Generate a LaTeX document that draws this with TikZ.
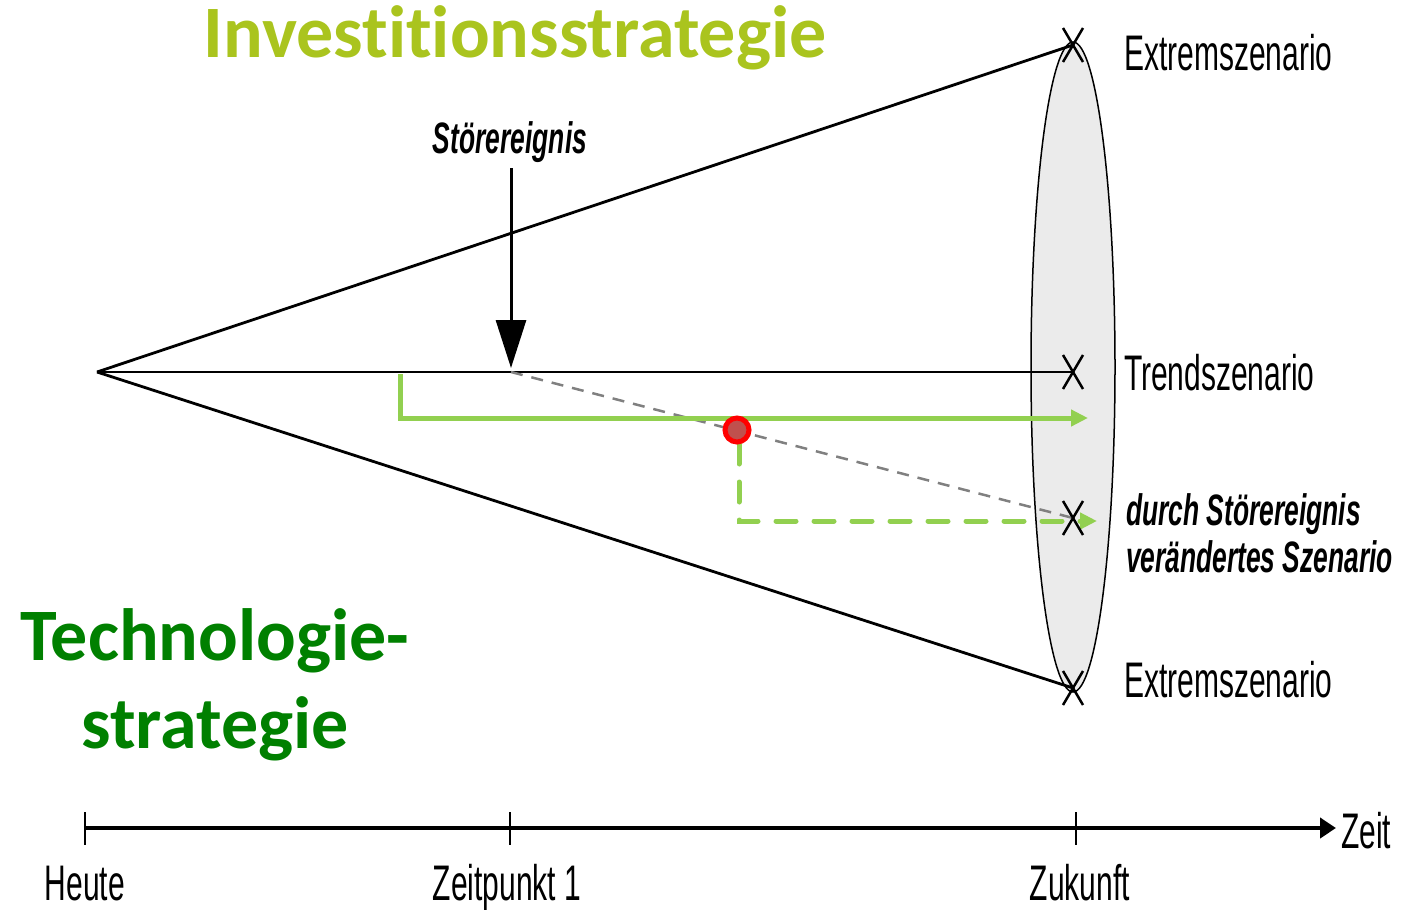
\documentclass[tikz,border=0pt]{standalone}
\usepackage{fontspec}
\setmainfont{Liberation Sans}
\newfontfamily\narrowfont[FakeStretch=0.6]{Liberation Sans}
\newfontfamily\titlefont[Ligatures={NoCommon}]{Carlito}
\usetikzlibrary{arrows.meta,calc,shapes.geometric}
\definecolor{investgreen}{RGB}{170,196,30}
\definecolor{techgreen}{RGB}{0,128,0}
\definecolor{pathgreen}{RGB}{146,208,80}
\definecolor{conefill}{RGB}{235,235,235}
\definecolor{eventfill}{RGB}{192,80,77}
\tikzset{
  txt/.style={inner sep=0pt, outer sep=0pt, anchor=base},
  label50/.style={txt, font=\narrowfont\fontsize{50}{60}\selectfont},
  eventlbl/.style={txt, font=\narrowfont\bfseries\itshape\fontsize{44}{52}\selectfont},
  bigtitle/.style={txt, font=\titlefont\bfseries\fontsize{74}{88}\selectfont},
  coneline/.style={line width=2.8pt, black},
  xmark/.style={line width=2.5pt, black},
  greenpath/.style={line width=5pt, pathgreen, -{Triangle[length=17pt,width=16pt]}},
  axis/.style={line width=4pt, black, -{Triangle[length=16pt,width=20pt]}},
  tick/.style={line width=1.5pt, black},
}
\newcommand{\xmarkat}[1]{%
  \draw[xmark] ($(#1)+(-10,-17)$) -- ($(#1)+(10,17)$);
  \draw[xmark] ($(#1)+(10,-17)$) -- ($(#1)+(-10,17)$);}
\begin{document}
\begin{tikzpicture}[x=1pt,y=-1pt]
\useasboundingbox (0,0) rectangle (1406,910);

% key points of the scenario funnel
\coordinate (apex) at (97,372);
\coordinate (top) at (1073,45);
\coordinate (bottom) at (1073,688);
\coordinate (trend) at (1073,372);
\coordinate (altered) at (1073,518);
\coordinate (event) at (511,372);

% cross-section of the funnel at the horizon
\node[draw=black, line width=1.5pt, fill=conefill, ellipse, minimum width=84pt, minimum height=650pt, inner sep=0pt] (horizon) at (1073,367) {};

% funnel edges and trend line
\draw[coneline] (apex) -- (top);
\draw[coneline] (apex) -- (bottom);
\draw[coneline] (apex) -- (trend);

% shifted development after the disturbance
\draw[line width=2.5pt, gray, dash pattern=on 12pt off 9pt] (event) -- (altered);

% strategy paths
\coordinate (g1) at (400,374);
\coordinate (g2) at (400,418);
\coordinate (g3) at (1088,418);
\draw[greenpath] (g1) -- (g2) -- (g3);

\coordinate (d1) at (739,444);
\coordinate (d2) at (739,521);
\coordinate (d3) at (1097,521);
\draw[greenpath, line cap=round, dash pattern=on 20pt off 18pt] (d1) -- (d2) -- (d3);

% decision point
\node[circle, draw=red, line width=5pt, fill=eventfill, minimum size=24pt, inner sep=0pt] (decision) at (737,430) {};

% scenario marks
\xmarkat{top}
\xmarkat{trend}
\xmarkat{altered}
\xmarkat{bottom}

% disturbance arrow
\node[eventlbl, anchor=base] (evtlbl) at (510,153) {Störereignis};
\coordinate (evtstart) at (511,168);
\coordinate (evtend) at (511,368);
\draw[line width=3pt, -{Triangle[length=48pt,width=30pt]}] (evtstart) -- (evtend);

% scenario labels
\node[label50, anchor=base west] (ext1) at (1124,70) {Extremszenario};
\node[label50, anchor=base west] (trd) at (1124,390) {Trendszenario};
\node[eventlbl, anchor=base west] (alt1) at (1126,525) {durch Störereignis};
\node[eventlbl, anchor=base west] (alt2) at (1126,572) {verändertes Szenario};
\node[label50, anchor=base west] (ext2) at (1124,697) {Extremszenario};

% time axis
\coordinate (axstart) at (85,828);
\coordinate (axend) at (1336,828);
\draw[axis] (axstart) -- (axend);
\coordinate (t0) at (85,828);
\coordinate (t1) at (510,828);
\coordinate (t2) at (1076,828);
\draw[tick] ($(t0)+(0,-16)$) -- ($(t0)+(0,17)$);
\draw[tick] ($(t1)+(0,-16)$) -- ($(t1)+(0,17)$);
\draw[tick] ($(t2)+(0,-16)$) -- ($(t2)+(0,17)$);
\node[label50] (heute) at (85,900) {Heute};
\node[label50] (zp1) at (507,900) {Zeitpunkt 1};
\node[label50] (zuk) at (1080,900) {Zukunft};
\node[label50, anchor=base west] (zeit) at (1341,848) {Zeit};

% strategy titles
\node[bigtitle, text=investgreen] (invest) at (515,57) {Investitionsstrategie};
\node[bigtitle, text=techgreen] (tech1) at (215,660) {Technologie-};
\node[bigtitle, text=techgreen] (tech2) at (215,748) {strategie};
\end{tikzpicture}
\end{document}
